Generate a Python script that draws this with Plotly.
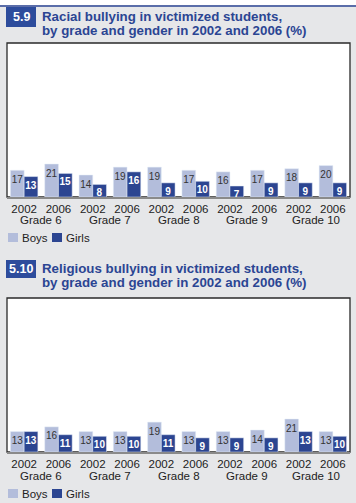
import plotly.graph_objects as go

W, H = 356, 503

grades = ["Grade 6", "Grade 7", "Grade 8", "Grade 9", "Grade 10"]
years = ["2002", "2006"]

racial_boys = [17, 21, 14, 19, 19, 17, 16, 17, 18, 20]
racial_girls = [13, 15, 8, 16, 9, 10, 7, 9, 9, 9]

religious_boys = [13, 16, 13, 13, 19, 13, 13, 14, 21, 13]
religious_girls = [13, 11, 10, 10, 11, 9, 9, 9, 13, 10]

title1 = ["Racial bullying in victimized students,", "by grade and gender in 2002 and 2006 (%)"]
title2 = ["Religious bullying in victimized students,", "by grade and gender in 2002 and 2006 (%)"]
num1, num2 = "5.9", "5.10"
series_names = ["Boys", "Girls"]

BOYS = "#b3bddb"
GIRLS = "#2c4591"
NAVY = "#2b4593"
BG = "#e6e7e9"
FONT = "Liberation Sans, Arial, sans-serif"

cats = [f"{g}|{y}" for g in grades for y in years]
ticktext = [y for g in grades for y in years]


def py(px):
    return 1 - px / H


def pxx(px):
    return px / W


fig = go.Figure()

charts = [
    (racial_boys, racial_girls, "x", "y", 43, 197, 220, 238, num1, title1, 7, 27, 16.5, 30.5),
    (religious_boys, religious_girls, "x2", "y2", 298, 452, 476, 494, num2, title2, 260, 278, 268.5, 282.5),
]

shapes = [
    dict(type="rect", xref="paper", yref="paper", x0=0, x1=1, y0=py(5), y1=1,
         fillcolor="white", line_width=0, layer="below"),
    dict(type="line", xref="paper", yref="paper", x0=0, x1=1, y0=py(6), y1=py(6),
         line=dict(color=NAVY, width=1.5)),
]
annotations = []

for i, (boys, girls, xa, ya, top, bot, grade_y, leg_y, num, title, bt, bb, t1, t2) in enumerate(charts):
    fig.add_trace(go.Bar(
        x=cats, y=boys, name=series_names[0], marker_color=BOYS, xaxis=xa, yaxis=ya,
        text=[str(v) for v in boys], textposition="inside", insidetextanchor="end",
        constraintext="none", textangle=0, showlegend=False,
        textfont=dict(color="#333333", size=10.5, family=FONT),
    ))
    fig.add_trace(go.Bar(
        x=cats, y=girls, name=series_names[1], marker_color=GIRLS, xaxis=xa, yaxis=ya,
        text=[f"<b>{v}</b>" for v in girls], textposition="inside", insidetextanchor="end",
        constraintext="none", textangle=0, showlegend=False,
        textfont=dict(color="white", size=10, family=FONT),
    ))
    axn = "" if i == 0 else "2"
    fig.update_layout(**{
        f"xaxis{axn}": dict(domain=[pxx(7), pxx(350)], anchor=ya, type="category",
                            range=[-0.5, 9.5], tickmode="array", tickvals=cats, ticktext=ticktext,
                            showline=True, linecolor="#8a8a8a", linewidth=1.5, showgrid=False,
                            ticks="", tickfont=dict(size=11.5, color="#222", family=FONT),
                            fixedrange=True),
        f"yaxis{axn}": dict(domain=[py(bot), py(top)], anchor=xa, range=[0, 98],
                            showgrid=False, showticklabels=False, zeroline=False,
                            showline=False, fixedrange=True),
    })
    xd = f"{xa} domain"
    yd = f"{ya} domain"
    shapes.append(dict(type="rect", xref=xd, yref=yd, x0=0, x1=1, y0=0, y1=1,
                       line=dict(color="#2a2a2a", width=1.3), fillcolor="rgba(0,0,0,0)",
                       layer="below"))
    shapes.append(dict(type="rect", xref="paper", yref="paper", x0=pxx(6), x1=pxx(36),
                       y0=py(bb), y1=py(bt), fillcolor="#2d4c9c", line_width=0))
    annotations.append(dict(xref="paper", yref="paper", x=pxx(21), y=py((bt + bb) / 2),
                            text=f"<b>{num}</b>", showarrow=False, xanchor="center",
                            yanchor="middle", font=dict(size=12.5, color="white", family=FONT)))
    for ty, line in zip([t1, t2], title):
        annotations.append(dict(xref="paper", yref="paper", x=pxx(40), y=py(ty),
                                text=f"<b>{line}</b>", showarrow=False, xanchor="left",
                                yanchor="middle",
                                font=dict(size=13.3, color=NAVY, family=FONT)))
    for gi, g in enumerate(grades):
        annotations.append(dict(xref=xa, yref="paper", x=gi * 2 + 0.5, y=py(grade_y),
                                text=g, showarrow=False, xanchor="center", yanchor="middle",
                                font=dict(size=11.5, color="#222", family=FONT)))
    # legend (manual)
    for (sx, tx, col, nm) in [(8, 20, BOYS, series_names[0]), (52, 64, GIRLS, series_names[1])]:
        shapes.append(dict(type="rect", xref="paper", yref="paper", x0=pxx(sx), x1=pxx(sx + 10),
                           y0=py(leg_y + 4), y1=py(leg_y - 5), fillcolor=col, line_width=0))
        annotations.append(dict(xref="paper", yref="paper", x=pxx(tx), y=py(leg_y),
                                text=nm, showarrow=False, xanchor="left", yanchor="middle",
                                font=dict(size=11.5, color="#222", family=FONT)))

fig.update_layout(
    width=W, height=H, margin=dict(l=0, r=0, t=0, b=0),
    paper_bgcolor=BG, plot_bgcolor="white",
    barmode="group", bargap=0.2, bargroupgap=0,
    shapes=shapes, annotations=annotations,
    font=dict(family=FONT), showlegend=False,
    uniformtext=dict(minsize=9, mode="show"),
)

fig.write_html(
    "out.html",
    config={"displayModeBar": False},
    post_script="document.body.style.margin='0';document.body.style.overflow='hidden';",
)
